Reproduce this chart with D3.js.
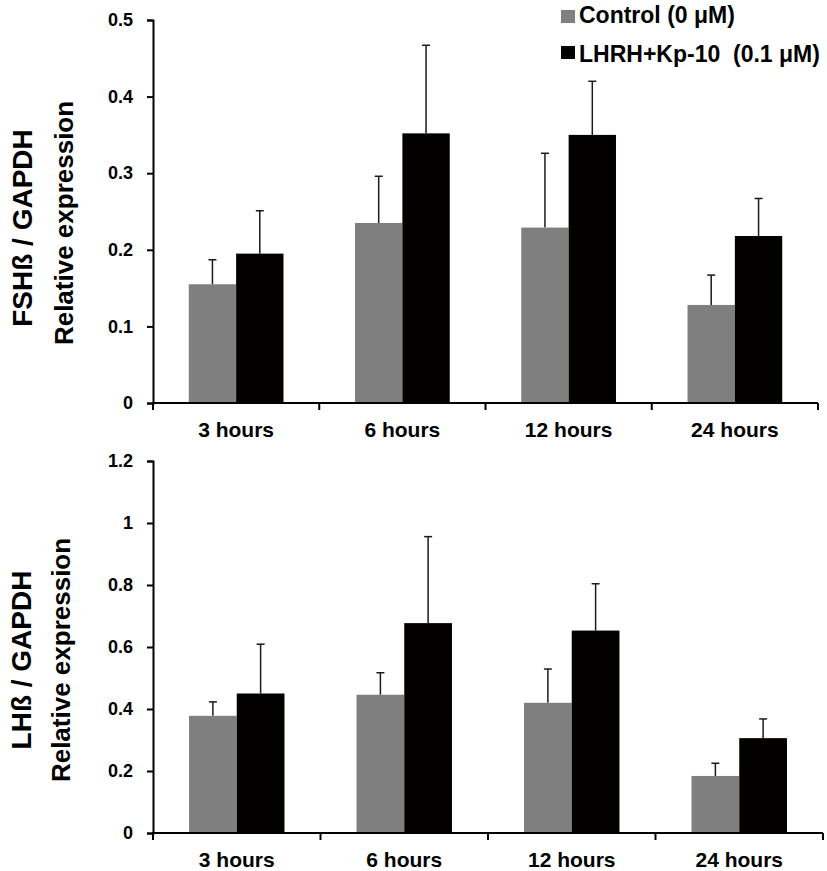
<!DOCTYPE html>
<html>
<head>
<meta charset="utf-8">
<script src="https://cdn.jsdelivr.net/npm/d3@7"></script>
<style>
  html, body { margin: 0; padding: 0; background: #fff; }
  svg { display: block; font-family: "Liberation Sans", Arial, sans-serif; }
  text { font-weight: bold; fill: #000; }
</style>
</head>
<body>
<svg id="chart" width="827" height="871"></svg>
<script>
// ---- Data ----
const categories = ["3 hours", "6 hours", "12 hours", "24 hours"];
const seriesNames = ["Control (0 \u03bcM)", "LHRH+Kp-10  (0.1 \u03bcM)"];

// FSHß / GAPDH
const fshControl = [0.155, 0.235, 0.229, 0.128];
const fshControlErr = [0.032, 0.061, 0.097, 0.039];
const fshTreated = [0.195, 0.352, 0.350, 0.218];
const fshTreatedErr = [0.056, 0.115, 0.070, 0.049];
const fshTicks = [0, 0.1, 0.2, 0.3, 0.4, 0.5];

// LHß / GAPDH
const lhControl = [0.378, 0.446, 0.420, 0.184];
const lhControlErr = [0.045, 0.071, 0.109, 0.041];
const lhTreated = [0.450, 0.677, 0.653, 0.306];
const lhTreatedErr = [0.159, 0.279, 0.151, 0.062];
const lhTicks = [0, 0.2, 0.4, 0.6, 0.8, 1.0, 1.2];

const colors = ["#7f7f7f", "#030000"];

const svg = d3.select("#chart");

function drawPanel(cfg) {
  const g = svg.append("g");
  const x0 = d3.scaleBand().domain(categories).range([cfg.x0, cfg.x1]).paddingInner(0).paddingOuter(0);
  const x1 = d3.scaleBand().domain([0, 1]).range([0, x0.bandwidth()]).paddingInner(0).paddingOuter(0.755);
  const y = d3.scaleLinear().domain([0, cfg.max]).range([cfg.yb, cfg.yt]);

  const rows = [];
  categories.forEach((c, i) => {
    rows.push({ cat: c, s: 0, v: cfg.ctrl[i], e: cfg.ctrlErr[i] });
    rows.push({ cat: c, s: 1, v: cfg.trt[i], e: cfg.trtErr[i] });
  });

  // error bars (upper only)
  const eb = g.append("g").attr("stroke", "#1a1a1a").attr("stroke-width", 1.5);
  rows.forEach(d => {
    const cx = x0(d.cat) + x1(d.s) + x1.bandwidth() / 2;
    eb.append("line").attr("x1", cx).attr("x2", cx).attr("y1", y(d.v)).attr("y2", y(d.v + d.e));
    eb.append("line").attr("x1", cx - 4).attr("x2", cx + 4).attr("y1", y(d.v + d.e)).attr("y2", y(d.v + d.e));
  });

  // bars
  g.append("g").selectAll("rect").data(rows).join("rect")
    .attr("x", d => x0(d.cat) + x1(d.s))
    .attr("width", x1.bandwidth())
    .attr("y", d => y(d.v))
    .attr("height", d => y(0) - y(d.v))
    .attr("fill", d => colors[d.s]);

  // y axis
  const ya = g.append("g").attr("transform", `translate(${cfg.x0},0)`)
    .call(d3.axisLeft(y).tickValues(cfg.ticks).tickSize(6).tickPadding(14)
      .tickFormat(d => String(+d.toFixed(1))));
  ya.select(".domain").attr("stroke", "#000").attr("stroke-width", 2);
  ya.selectAll(".tick line").attr("stroke", "#000").attr("stroke-width", 2);
  ya.selectAll(".tick text").style("font-size", "18px").style("font-weight", "bold")
    .style("font-family", "'Liberation Sans', Arial, sans-serif").attr("fill", "#000");

  // x axis labels
  const xa = g.append("g").attr("transform", `translate(0,${cfg.yb})`)
    .call(d3.axisBottom(x0).tickSize(0).tickPadding(19));
  xa.select(".domain").remove();
  xa.selectAll(".tick text").style("font-size", "21px").style("font-weight", "bold")
    .style("font-family", "'Liberation Sans', Arial, sans-serif").attr("fill", "#000");

  // x axis line + boundary ticks
  g.append("line").attr("x1", cfg.x0 - 1).attr("x2", cfg.x1).attr("y1", y(0)).attr("y2", y(0))
    .attr("stroke", "#000").attr("stroke-width", 2);
  const bounds = categories.map(c => x0(c)).concat([x0.range()[1]]);
  g.append("g").selectAll("line").data(bounds).join("line")
    .attr("x1", d => d).attr("x2", d => d).attr("y1", y(0)).attr("y2", y(0) + 7)
    .attr("stroke", "#000").attr("stroke-width", 2);

  // y titles
  g.append("text").attr("transform", `translate(${cfg.t1x},${cfg.tcy}) rotate(-90)`)
    .attr("text-anchor", "middle").style("font-size", "28px").text(cfg.title1);
  g.append("text").attr("transform", `translate(${cfg.t2x},${cfg.tcy2}) rotate(-90)`)
    .attr("text-anchor", "middle").style("font-size", "26px").text("Relative expression");
}

drawPanel({ x0: 153, x1: 818, yb: 403, yt: 20, max: 0.5, ticks: fshTicks,
  ctrl: fshControl, ctrlErr: fshControlErr, trt: fshTreated, trtErr: fshTreatedErr,
  title1: "FSH\u00df / GAPDH", t1x: 32, tcy: 228, t2x: 73, tcy2: 223 });

drawPanel({ x0: 153, x1: 823, yb: 833, yt: 461, max: 1.2, ticks: lhTicks,
  ctrl: lhControl, ctrlErr: lhControlErr, trt: lhTreated, trtErr: lhTreatedErr,
  title1: "LH\u00df / GAPDH", t1x: 31, tcy: 660, t2x: 70, tcy2: 660 });

// legend
const lg = svg.append("g");
const legendRows = [{ y: 10, ty: 23 }, { y: 46, ty: 62 }];
seriesNames.forEach((name, i) => {
  lg.append("rect").attr("x", 561).attr("y", legendRows[i].y).attr("width", 14).attr("height", 13).attr("fill", colors[i]);
  lg.append("text").attr("x", 579).attr("y", legendRows[i].ty).style("font-size", "23px")
    .style("white-space", "pre").attr("xml:space", "preserve").text(name);
});
</script>
</body>
</html>
